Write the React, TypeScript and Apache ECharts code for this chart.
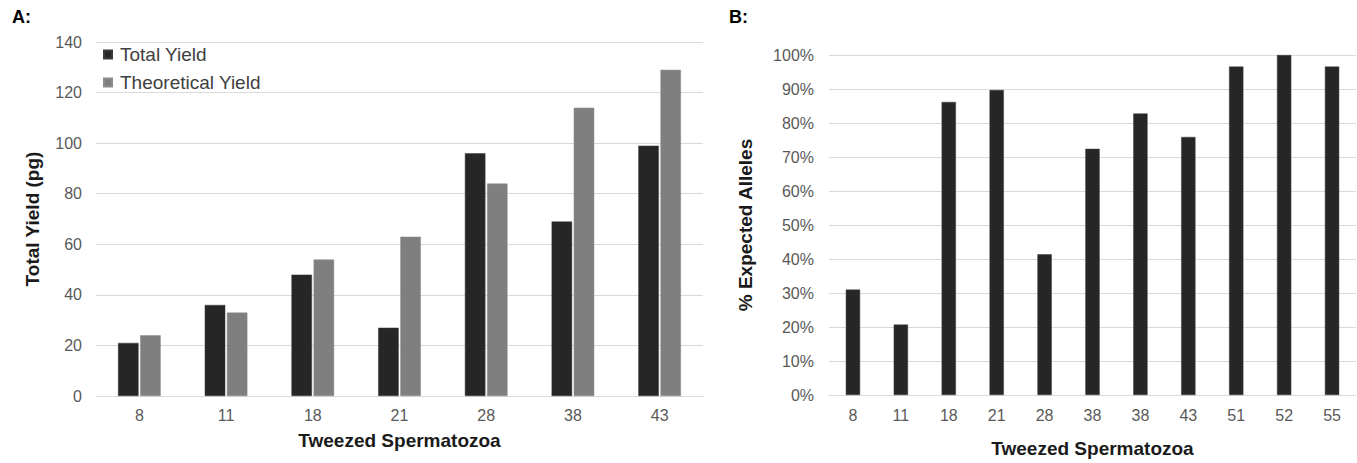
import React, { useEffect, useRef } from "react";
import * as echarts from "echarts";

const categoriesA = ["8", "11", "18", "21", "28", "38", "43"];
const totalYield = [21, 36, 48, 27, 96, 69, 99];
const theoreticalYield = [24, 33, 54, 63, 84, 114, 129];

const categoriesB = ["8", "11", "18", "21", "28", "38", "38", "43", "51", "52", "55"];
const expectedAlleles = [31.0, 20.7, 86.2, 89.7, 41.4, 72.4, 82.8, 75.9, 96.6, 100, 96.6];

const FONT = "'Liberation Sans', Arial, Helvetica, sans-serif";

export default function App() {
  const ref = useRef<HTMLDivElement>(null);

  useEffect(() => {
    document.body.style.margin = "0";
    const chart = echarts.init(ref.current!, undefined, { renderer: "svg" });
    const tickLabel = { color: "#595959", fontSize: 16, fontFamily: FONT };
    const axisName = { color: "#1a1a1a", fontSize: 19, fontWeight: "bold" as const, fontFamily: FONT };
    const splitLine = { show: true, lineStyle: { color: "#d9d9d9", width: 1 } };
    chart.setOption({
      animation: false,
      backgroundColor: "#ffffff",
      textStyle: { fontFamily: FONT },
      graphic: [
        { type: "text", left: 12, top: 8, style: { text: "A:", fontSize: 18, fontWeight: "bold", fill: "#000", fontFamily: FONT } },
        { type: "text", left: 729, top: 8, style: { text: "B:", fontSize: 18, fontWeight: "bold", fill: "#000", fontFamily: FONT } },
      ],
      legend: {
        left: 98,
        top: 40,
        orient: "vertical",
        itemWidth: 8,
        itemHeight: 8,
        itemGap: 9,
        icon: "rect",
        textStyle: { color: "#404040", fontSize: 19, fontFamily: FONT, padding: [0, 0, 0, 3] },
        data: ["Total Yield", "Theoretical Yield"],
      },
      grid: [
        { left: 96, right: 654, top: 42, bottom: 67 },
        { left: 829, right: 1, top: 55, bottom: 64 },
      ],
      xAxis: [
        {
          type: "category",
          gridIndex: 0,
          data: categoriesA,
          axisLine: { show: true, lineStyle: { color: "#d9d9d9" } },
          axisTick: { show: false },
          axisLabel: { ...tickLabel, margin: 11 },
          name: "Tweezed Spermatozoa",
          nameLocation: "middle",
          nameGap: 35,
          nameTextStyle: axisName,
        },
        {
          type: "category",
          gridIndex: 1,
          data: categoriesB,
          axisLine: { show: true, lineStyle: { color: "#d9d9d9" } },
          axisTick: { show: false },
          axisLabel: { ...tickLabel, margin: 12 },
          name: "Tweezed Spermatozoa",
          nameLocation: "middle",
          nameGap: 44,
          nameTextStyle: axisName,
        },
      ],
      yAxis: [
        {
          type: "value",
          gridIndex: 0,
          min: 0,
          max: 140,
          interval: 20,
          axisLine: { show: false },
          axisTick: { show: false },
          axisLabel: { ...tickLabel, margin: 14 },
          splitLine,
          name: "Total Yield (pg)",
          nameLocation: "middle",
          nameGap: 54,
          nameTextStyle: axisName,
        },
        {
          type: "value",
          gridIndex: 1,
          min: 0,
          max: 100,
          interval: 10,
          axisLine: { show: false },
          axisTick: { show: false },
          axisLabel: { ...tickLabel, margin: 15, formatter: "{value}%" },
          splitLine,
          name: "% Expected Alleles",
          nameLocation: "middle",
          nameGap: 74,
          nameTextStyle: axisName,
        },
      ],
      series: [
        {
          name: "Total Yield",
          type: "bar",
          xAxisIndex: 0,
          yAxisIndex: 0,
          data: totalYield,
          barWidth: 20.5,
          barGap: "8%",
          itemStyle: { color: "#262626", borderColor: "#3a3a3a", borderWidth: 0.5 },
        },
        {
          name: "Theoretical Yield",
          type: "bar",
          xAxisIndex: 0,
          yAxisIndex: 0,
          data: theoreticalYield,
          barWidth: 20.5,
          barGap: "8%",
          itemStyle: { color: "#7f7f7f", borderColor: "#8c8c8c", borderWidth: 0.5 },
        },
        {
          name: "% Expected Alleles",
          type: "bar",
          xAxisIndex: 1,
          yAxisIndex: 1,
          data: expectedAlleles,
          barWidth: 14.3,
          itemStyle: { color: "#262626", borderColor: "#3a3a3a", borderWidth: 0.5 },
        },
      ],
    });
    return () => chart.dispose();
  }, []);

  return <div ref={ref} style={{ width: 1357, height: 463 }} />;
}
